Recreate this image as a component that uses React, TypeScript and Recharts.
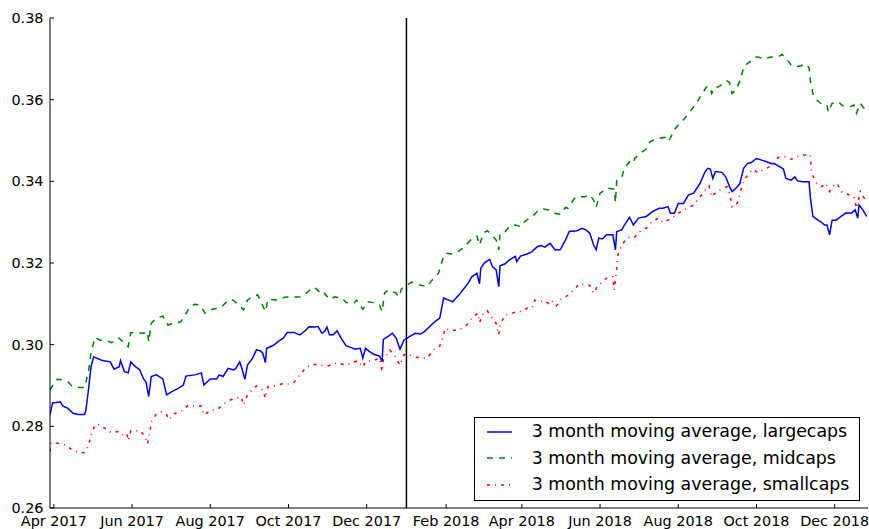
import React from 'react';
import { LineChart, Line, XAxis, YAxis, ReferenceLine, Legend } from 'recharts';

// x values are days counted from START_DATE
const START_DATE = '2017-03-29';
const END_DAY = 638;
const SPLIT_DATE = '2018-01-01';
const TICK_DATES = [
  '2017-04-01', '2017-06-01', '2017-08-01', '2017-10-01', '2017-12-01',
  '2018-02-01', '2018-04-01', '2018-06-01', '2018-08-01', '2018-10-01', '2018-12-01',
];
const MONTHS = ['Jan', 'Feb', 'Mar', 'Apr', 'May', 'Jun', 'Jul', 'Aug', 'Sep', 'Oct', 'Nov', 'Dec'];
const Y_TICKS = [0.26, 0.28, 0.3, 0.32, 0.34, 0.36, 0.38];

const largeDays = [
  0, 2, 4, 8, 10, 14, 18, 22, 27, 28, 30, 32, 34, 37, 41, 47, 50, 54, 55, 58, 61, 63, 66, 70, 73, 75, 77, 79, 83, 88,
  91, 95, 100, 104, 106, 113, 118, 120, 125, 130, 132, 135, 139, 143, 145, 148, 150, 152, 154, 158, 161, 164, 166, 168, 169, 174, 179, 182, 185, 190,
  195, 199, 202, 207, 209, 212, 214, 216, 218, 221, 224, 227, 231, 234, 238, 242, 244, 246, 250, 253, 257, 259, 260, 264, 267, 270, 273, 276, 281, 285,
  289, 292, 296, 300, 304, 307, 311, 314, 319, 322, 326, 329, 333, 335, 336, 339, 343, 345, 348, 350, 351, 355, 358, 363, 364, 367, 372, 376, 380, 383,
  386, 390, 394, 398, 402, 405, 411, 415, 418, 421, 424, 426, 428, 431, 434, 439, 441, 442, 446, 448, 452, 455, 459, 465, 470, 475, 478, 482, 484, 487,
  490, 494, 498, 502, 507, 511, 513, 515, 517, 519, 524, 527, 530, 532, 535, 538, 541, 544, 547, 551, 555, 559, 563, 565, 569, 572, 574, 578, 581, 583,
  587, 592, 593, 595, 599, 602, 604, 606, 608, 610, 613, 617, 621, 625, 628, 630, 631, 634, 637,
];
const largeVals = [
  0.2828, 0.2858, 0.2858, 0.2860, 0.2850, 0.2844, 0.2832, 0.2829, 0.2829, 0.2840, 0.2889, 0.2946, 0.2970, 0.2966, 0.2961, 0.2958, 0.2940, 0.2946, 0.2961, 0.2934, 0.2931, 0.2958, 0.2948, 0.2938, 0.2916, 0.2907, 0.2873, 0.2922, 0.2926, 0.2916,
  0.2877, 0.2885, 0.2893, 0.2901, 0.2923, 0.2926, 0.2931, 0.2901, 0.2916, 0.2916, 0.2926, 0.2922, 0.2942, 0.2938, 0.2942, 0.2958, 0.2938, 0.2915, 0.2950, 0.2967, 0.2987, 0.2985, 0.2979, 0.2956, 0.2991, 0.2998, 0.3010, 0.3016, 0.3030, 0.3030,
  0.3024, 0.3034, 0.3044, 0.3043, 0.3045, 0.3028, 0.3032, 0.3043, 0.3024, 0.3024, 0.3034, 0.3016, 0.2997, 0.2994, 0.2989, 0.2991, 0.2967, 0.2991, 0.2981, 0.2976, 0.2972, 0.2958, 0.3013, 0.3021, 0.3028, 0.3016, 0.2989, 0.3011, 0.3021, 0.3028,
  0.3026, 0.3032, 0.3044, 0.3056, 0.3065, 0.3114, 0.3109, 0.3105, 0.3122, 0.3134, 0.3150, 0.3166, 0.3175, 0.3149, 0.3187, 0.3201, 0.3209, 0.3191, 0.3183, 0.3142, 0.3193, 0.3198, 0.3207, 0.3216, 0.3203, 0.3217, 0.3222, 0.3228, 0.3240, 0.3243,
  0.3239, 0.3248, 0.3232, 0.3233, 0.3256, 0.3277, 0.3279, 0.3285, 0.3281, 0.3273, 0.3244, 0.3232, 0.3261, 0.3259, 0.3269, 0.3269, 0.3232, 0.3277, 0.3281, 0.3293, 0.3312, 0.3293, 0.3310, 0.3314, 0.3326, 0.3334, 0.3334, 0.3338, 0.3322, 0.3322,
  0.3346, 0.3346, 0.3367, 0.3371, 0.3395, 0.3424, 0.3432, 0.3430, 0.3407, 0.3424, 0.3422, 0.3411, 0.3387, 0.3375, 0.3383, 0.3394, 0.3432, 0.3444, 0.3446, 0.3456, 0.3452, 0.3448, 0.3443, 0.3443, 0.3436, 0.3430, 0.3407, 0.3403, 0.3411, 0.3401,
  0.3399, 0.3399, 0.3362, 0.3314, 0.3305, 0.3299, 0.3293, 0.3293, 0.3269, 0.3305, 0.3305, 0.3314, 0.3323, 0.3322, 0.3330, 0.3310, 0.3342, 0.3330, 0.3314,
];

const midDays = [
  0, 5, 8, 14, 17, 23, 27, 30, 32, 35, 39, 44, 48, 54, 58, 61, 63, 67, 73, 76, 77, 79, 83, 88, 92, 96, 102, 105, 109, 113,
  117, 121, 125, 130, 134, 139, 143, 151, 154, 156, 162, 168, 170, 178, 183, 189, 195, 200, 205, 208, 212, 214, 218, 222, 228, 231, 237, 239, 244, 248,
  252, 257, 259, 261, 264, 270, 272, 274, 282, 286, 294, 298, 303, 307, 309, 313, 316, 322, 328, 333, 335, 338, 341, 344, 348, 350, 351, 355, 359, 363,
  367, 370, 376, 380, 385, 389, 394, 398, 402, 404, 409, 413, 417, 421, 424, 426, 429, 433, 435, 440, 441, 442, 446, 448, 452, 455, 456, 461, 465, 468,
  474, 482, 483, 487, 490, 495, 499, 504, 508, 512, 515, 516, 519, 521, 528, 530, 532, 535, 539, 541, 546, 551, 558, 561, 568, 571, 574, 578, 582, 586,
  589, 592, 593, 595, 598, 602, 606, 607, 610, 615, 618, 624, 627, 629, 632, 634, 638,
];
const midVals = [
  0.2889, 0.2915, 0.2915, 0.2909, 0.2899, 0.2895, 0.2895, 0.2934, 0.2979, 0.3018, 0.3011, 0.3010, 0.3005, 0.3016, 0.3003, 0.2995, 0.3029, 0.3029, 0.3028, 0.3032, 0.3007, 0.3052, 0.3065, 0.3070, 0.3048, 0.3052, 0.3056, 0.3070, 0.3093, 0.3099,
  0.3097, 0.3077, 0.3085, 0.3089, 0.3093, 0.3109, 0.3109, 0.3085, 0.3109, 0.3114, 0.3122, 0.3081, 0.3111, 0.3109, 0.3116, 0.3117, 0.3117, 0.3126, 0.3141, 0.3136, 0.3122, 0.3126, 0.3111, 0.3117, 0.3114, 0.3103, 0.3101, 0.3109, 0.3087, 0.3105,
  0.3103, 0.3097, 0.3081, 0.3127, 0.3134, 0.3126, 0.3117, 0.3136, 0.3153, 0.3148, 0.3142, 0.3158, 0.3175, 0.3216, 0.3224, 0.3222, 0.3224, 0.3236, 0.3256, 0.3266, 0.3244, 0.3273, 0.3279, 0.3271, 0.3256, 0.3232, 0.3273, 0.3277, 0.3291, 0.3293,
  0.3289, 0.3301, 0.3314, 0.3326, 0.3332, 0.3330, 0.3322, 0.3319, 0.3336, 0.3334, 0.3358, 0.3362, 0.3362, 0.3367, 0.3354, 0.3336, 0.3371, 0.3379, 0.3383, 0.3381, 0.3348, 0.3403, 0.3411, 0.3432, 0.3448, 0.3444, 0.3456, 0.3470, 0.3479, 0.3497,
  0.3505, 0.3509, 0.3501, 0.3526, 0.3538, 0.3554, 0.3570, 0.3591, 0.3611, 0.3631, 0.3631, 0.3615, 0.3631, 0.3631, 0.3646, 0.3642, 0.3615, 0.3624, 0.3652, 0.3681, 0.3693, 0.3705, 0.3700, 0.3704, 0.3705, 0.3711, 0.3701, 0.3685, 0.3681, 0.3683,
  0.3688, 0.3679, 0.3648, 0.3615, 0.3599, 0.3589, 0.3587, 0.3570, 0.3591, 0.3595, 0.3585, 0.3583, 0.3587, 0.3567, 0.3591, 0.3583, 0.3567,
];

const smallDays = [
  0, 1, 8, 13, 18, 24, 27, 30, 32, 35, 37, 43, 48, 53, 56, 60, 61, 63, 68, 70, 74, 76, 78, 79, 83, 87, 91, 93, 96, 102,
  108, 113, 118, 120, 126, 131, 136, 141, 147, 149, 151, 154, 158, 161, 166, 168, 170, 175, 181, 185, 190, 195, 200, 205, 210, 216, 220, 224, 230, 235,
  240, 244, 246, 250, 253, 257, 259, 260, 265, 269, 273, 276, 279, 286, 294, 299, 304, 307, 308, 313, 320, 325, 330, 334, 335, 338, 341, 344, 348, 350,
  351, 355, 359, 364, 368, 372, 376, 378, 382, 385, 389, 391, 395, 399, 403, 408, 413, 418, 421, 424, 426, 430, 434, 439, 440, 442, 443, 446, 450, 454,
  456, 460, 465, 470, 475, 478, 482, 486, 490, 497, 502, 507, 511, 514, 516, 520, 524, 528, 530, 532, 536, 539, 541, 545, 548, 552, 556, 559, 563, 568,
  573, 578, 584, 590, 593, 594, 598, 602, 605, 608, 610, 614, 617, 623, 627, 629, 632, 636, 638,
];
const smallVals = [
  0.2738, 0.2760, 0.2758, 0.2753, 0.2740, 0.2735, 0.2736, 0.2752, 0.2779, 0.2803, 0.2806, 0.2795, 0.2784, 0.2787, 0.2779, 0.2783, 0.2765, 0.2789, 0.2789, 0.2790, 0.2776, 0.2757, 0.2787, 0.2811, 0.2830, 0.2836, 0.2828, 0.2816, 0.2830, 0.2836,
  0.2852, 0.2850, 0.2850, 0.2828, 0.2840, 0.2842, 0.2856, 0.2865, 0.2870, 0.2872, 0.2852, 0.2877, 0.2890, 0.2899, 0.2889, 0.2869, 0.2897, 0.2899, 0.2904, 0.2903, 0.2907, 0.2926, 0.2945, 0.2952, 0.2950, 0.2948, 0.2950, 0.2956, 0.2950, 0.2954,
  0.2961, 0.2945, 0.2958, 0.2961, 0.2962, 0.2967, 0.2934, 0.2962, 0.2987, 0.2972, 0.2950, 0.2975, 0.2977, 0.2969, 0.2967, 0.2987, 0.2997, 0.3021, 0.3040, 0.3034, 0.3038, 0.3048, 0.3069, 0.3077, 0.3054, 0.3078, 0.3083, 0.3069, 0.3052, 0.3024,
  0.3048, 0.3073, 0.3075, 0.3081, 0.3081, 0.3089, 0.3090, 0.3109, 0.3105, 0.3108, 0.3101, 0.3109, 0.3095, 0.3114, 0.3119, 0.3132, 0.3149, 0.3146, 0.3145, 0.3126, 0.3138, 0.3152, 0.3163, 0.3166, 0.3134, 0.3187, 0.3220, 0.3244, 0.3261, 0.3265,
  0.3263, 0.3277, 0.3285, 0.3303, 0.3310, 0.3299, 0.3305, 0.3312, 0.3322, 0.3334, 0.3342, 0.3362, 0.3379, 0.3389, 0.3362, 0.3375, 0.3381, 0.3387, 0.3371, 0.3338, 0.3346, 0.3379, 0.3403, 0.3418, 0.3430, 0.3421, 0.3428, 0.3432, 0.3440, 0.3459,
  0.3460, 0.3454, 0.3462, 0.3465, 0.3465, 0.3420, 0.3395, 0.3387, 0.3395, 0.3375, 0.3387, 0.3395, 0.3375, 0.3367, 0.3362, 0.3334, 0.3375, 0.3354, 0.3354,
];

const dayOf = (iso: string) => (Date.parse(iso) - Date.parse(START_DATE)) / 864e5;
const tickDays = TICK_DATES.map(dayOf);
const tickLabel = (d: number) => {
  const dt = new Date(Date.parse(START_DATE) + d * 864e5);
  return `${MONTHS[dt.getUTCMonth()]} ${dt.getUTCFullYear()}`;
};
const toPoints = (days: number[], vals: number[]) => days.map((d, i) => ({ d, v: vals[i] }));

const SERIES = [
  { key: 'large', name: '3 month moving average, largecaps', color: '#0000ff', dash: undefined, data: toPoints(largeDays, largeVals) },
  { key: 'mid', name: '3 month moving average, midcaps', color: '#008000', dash: '6 6', data: toPoints(midDays, midVals) },
  { key: 'small', name: '3 month moving average, smallcaps', color: '#ff0000', dash: '3 5 1 5', data: toPoints(smallDays, smallVals) },
];

const FONT = '"DejaVu Sans", sans-serif';
const tickStyle = { fill: '#000', fontSize: 14.4, fontFamily: FONT };

const LegendBox = () => (
  <div
    style={{
      border: '1px solid #000',
      background: '#fff',
      width: 386,
      height: 84,
      boxSizing: 'border-box',
      paddingTop: 1,
      fontFamily: FONT,
      fontSize: 17.4,
      lineHeight: 1,
      color: '#000',
    }}
  >
    {SERIES.map(s => (
      <div key={s.key} style={{ height: 26.3, display: 'flex', alignItems: 'center' }}>
        <svg width={25} height={10} style={{ marginLeft: 11.7, marginRight: 20, flex: 'none' }}>
          <line x1={0} y1={5} x2={25} y2={5} stroke={s.color} strokeWidth={1.5} strokeDasharray={s.dash} />
        </svg>
        <span style={{ whiteSpace: 'nowrap' }}>{s.name}</span>
      </div>
    ))}
  </div>
);

export default function App() {
  return (
    <div style={{ position: 'absolute', left: 0, top: 0, background: '#fff' }}>
      <LineChart width={869} height={529} margin={{ top: 18, right: 1, bottom: 0, left: 0 }}>
        <XAxis
          xAxisId="b"
          type="number"
          dataKey="d"
          domain={[0, END_DAY]}
          allowDataOverflow
          ticks={tickDays}
          tickFormatter={tickLabel}
          interval={0}
          height={21}
          tickSize={-4}
          tickMargin={12}
          tick={tickStyle}
          stroke="#000"
          axisLine={{ stroke: '#000', strokeWidth: 1 }}
          tickLine={{ stroke: '#000' }}
        />
        <XAxis
          xAxisId="t"
          orientation="top"
          type="number"
          dataKey="d"
          domain={[0, END_DAY]}
          allowDataOverflow
          ticks={tickDays}
          height={0}
          tickSize={-4}
          tick={false}
          stroke="#000"
          axisLine={{ stroke: '#000', strokeWidth: 1 }}
          tickLine={{ stroke: '#000' }}
        />
        <YAxis
          yAxisId="l"
          type="number"
          domain={[0.26, 0.38]}
          allowDataOverflow
          ticks={Y_TICKS}
          tickFormatter={(v: number) => v.toFixed(2)}
          interval={0}
          width={50}
          tickSize={-4}
          tickMargin={10.5}
          tick={tickStyle}
          stroke="#000"
          axisLine={{ stroke: '#000', strokeWidth: 1 }}
          tickLine={{ stroke: '#000' }}
        />
        <YAxis
          yAxisId="r"
          orientation="right"
          type="number"
          domain={[0.26, 0.38]}
          allowDataOverflow
          ticks={Y_TICKS}
          width={0}
          tickSize={-4}
          tick={false}
          stroke="#000"
          axisLine={{ stroke: '#000', strokeWidth: 1 }}
          tickLine={{ stroke: '#000' }}
        />
        {SERIES.map(s => (
          <Line
            key={s.key}
            xAxisId="b"
            yAxisId="l"
            data={s.data}
            dataKey="v"
            name={s.name}
            type="linear"
            stroke={s.color}
            strokeWidth={1.5}
            strokeDasharray={s.dash}
            dot={false}
            activeDot={false}
            isAnimationActive={false}
          />
        ))}
        <ReferenceLine xAxisId="b" yAxisId="l" x={dayOf(SPLIT_DATE)} stroke="#000" strokeWidth={1.5} />
        <Legend
          layout="vertical"
          align="center"
          verticalAlign="middle"
          wrapperStyle={{ left: 474, top: 417, width: 386 }}
          content={() => <LegendBox />}
        />
      </LineChart>
    </div>
  );
}
